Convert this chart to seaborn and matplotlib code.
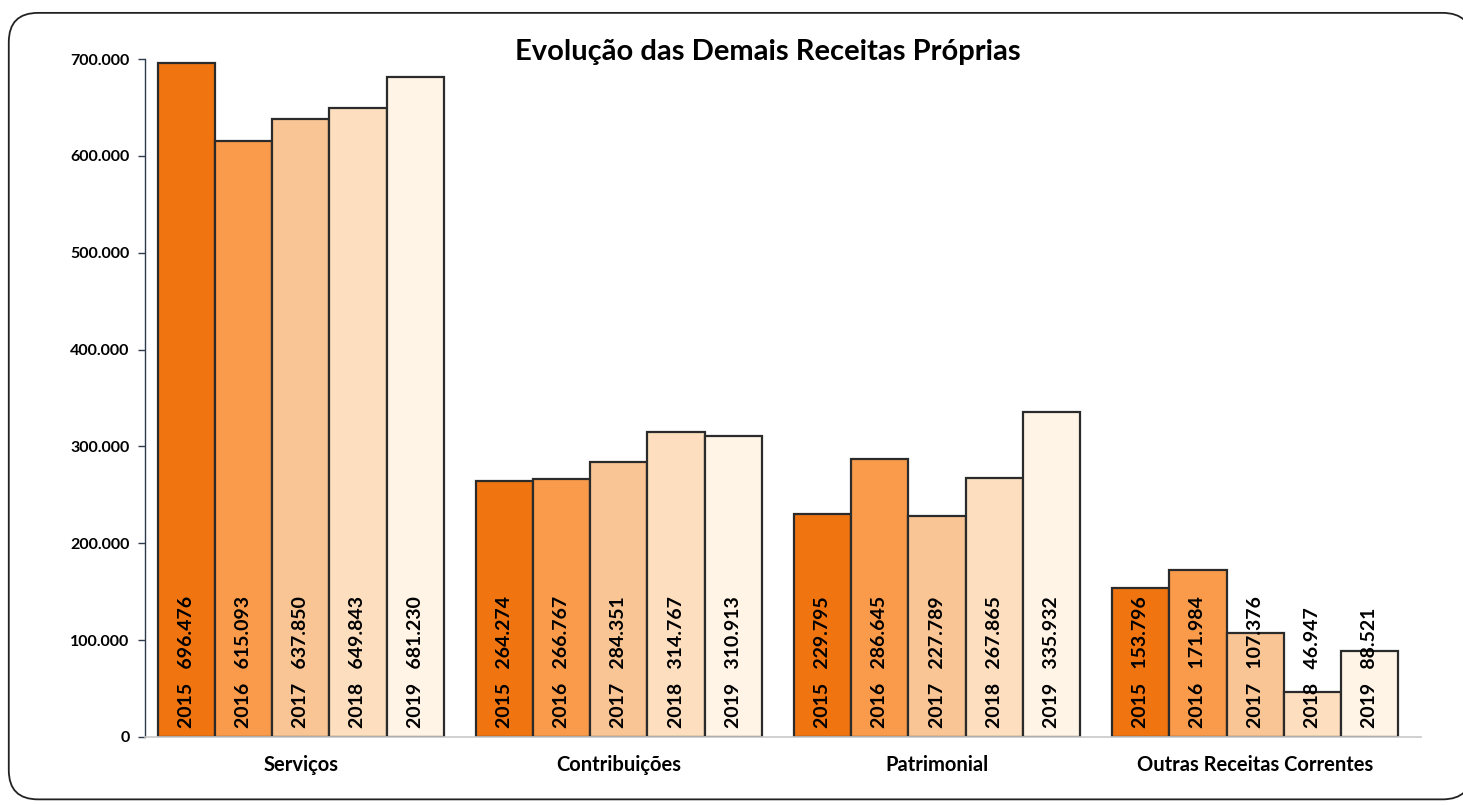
import matplotlib
matplotlib.use('Agg')
import matplotlib.pyplot as plt
from matplotlib.patches import FancyBboxPatch
import seaborn as sns
import pandas as pd

# chart data
categories = ['Serviços', 'Contribuições', 'Patrimonial', 'Outras Receitas Correntes']
years = ['2015', '2016', '2017', '2018', '2019']
v2015 = [696476, 264274, 229795, 153796]
v2016 = [615093, 266767, 286645, 171984]
v2017 = [637850, 284351, 227789, 107376]
v2018 = [649843, 314767, 267865, 46947]
v2019 = [681230, 310913, 335932, 88521]
colors = ['#F07511', '#F99B4A', '#FAC594', '#FDDFBF', '#FFF4E6']

rows = []
for year, vals in zip(years, [v2015, v2016, v2017, v2018, v2019]):
    for cat, v in zip(categories, vals):
        rows.append({'Categoria': cat, 'Ano': year, 'Valor': v})
df = pd.DataFrame(rows)


def fmt(v):
    return f'{v:,.0f}'.replace(',', '.')


sns.set_style('white')
plt.rcParams['font.family'] = ['Lato', 'DejaVu Sans']
plt.rcParams['text.color'] = 'black'
plt.rcParams['xtick.labelcolor'] = 'black'
plt.rcParams['ytick.labelcolor'] = 'black'

fig = plt.figure(figsize=(14.63, 8.05), dpi=100)
ax = fig.add_axes([0.099, 0.0845, 0.872, 0.842])

# rounded frame around the chart
frame = FancyBboxPatch((0.006, 0.007), 1.0, 0.977, boxstyle='round,pad=0,rounding_size=0.02',
                       transform=fig.transFigure, facecolor='white', edgecolor='#222222',
                       linewidth=1.3, zorder=-10, mutation_aspect=1463 / 805)
fig.patches.append(frame)

sns.barplot(data=df, x='Categoria', y='Valor', hue='Ano', palette=colors, width=0.9,
            edgecolor='#2b2b2b', linewidth=1.6, saturation=1, ax=ax, legend=False)

for year, cont in zip(years, ax.containers):
    for bar in cont:
        v = bar.get_height()
        ax.text(bar.get_x() + bar.get_width() / 2, 9000, f'{year}   {fmt(v)}', rotation=90,
                ha='center', va='bottom', fontsize=14, fontweight='bold', color='black')

ax.set_xlim(-0.49, 3.52)
ax.set_ylim(0, 700000)
ax.set_yticks(range(0, 700001, 100000))
ax.set_yticklabels([fmt(t) for t in range(0, 700001, 100000)])
ax.set_xlabel('')
ax.set_ylabel('')
ax.tick_params(axis='y', labelsize=11.5, length=5, width=1, color='#2e3b4e', pad=6, left=True)
ax.tick_params(axis='x', labelsize=14.5, length=0, pad=13)
for lbl in ax.get_xticklabels() + ax.get_yticklabels():
    lbl.set_fontweight('bold')

for s in ['top', 'right']:
    ax.spines[s].set_visible(False)
ax.spines['left'].set_color('#2e3b4e')
ax.spines['left'].set_linewidth(1)
ax.spines['bottom'].set_color('#c8c8c8')
ax.spines['bottom'].set_linewidth(1.2)
ax.patch.set_alpha(0)

fig.text(0.525, 0.935, 'Evolução das Demais Receitas Próprias', ha='center', va='center',
         fontsize=21, fontweight='bold', color='black')

fig.savefig('out.png', dpi=100)
